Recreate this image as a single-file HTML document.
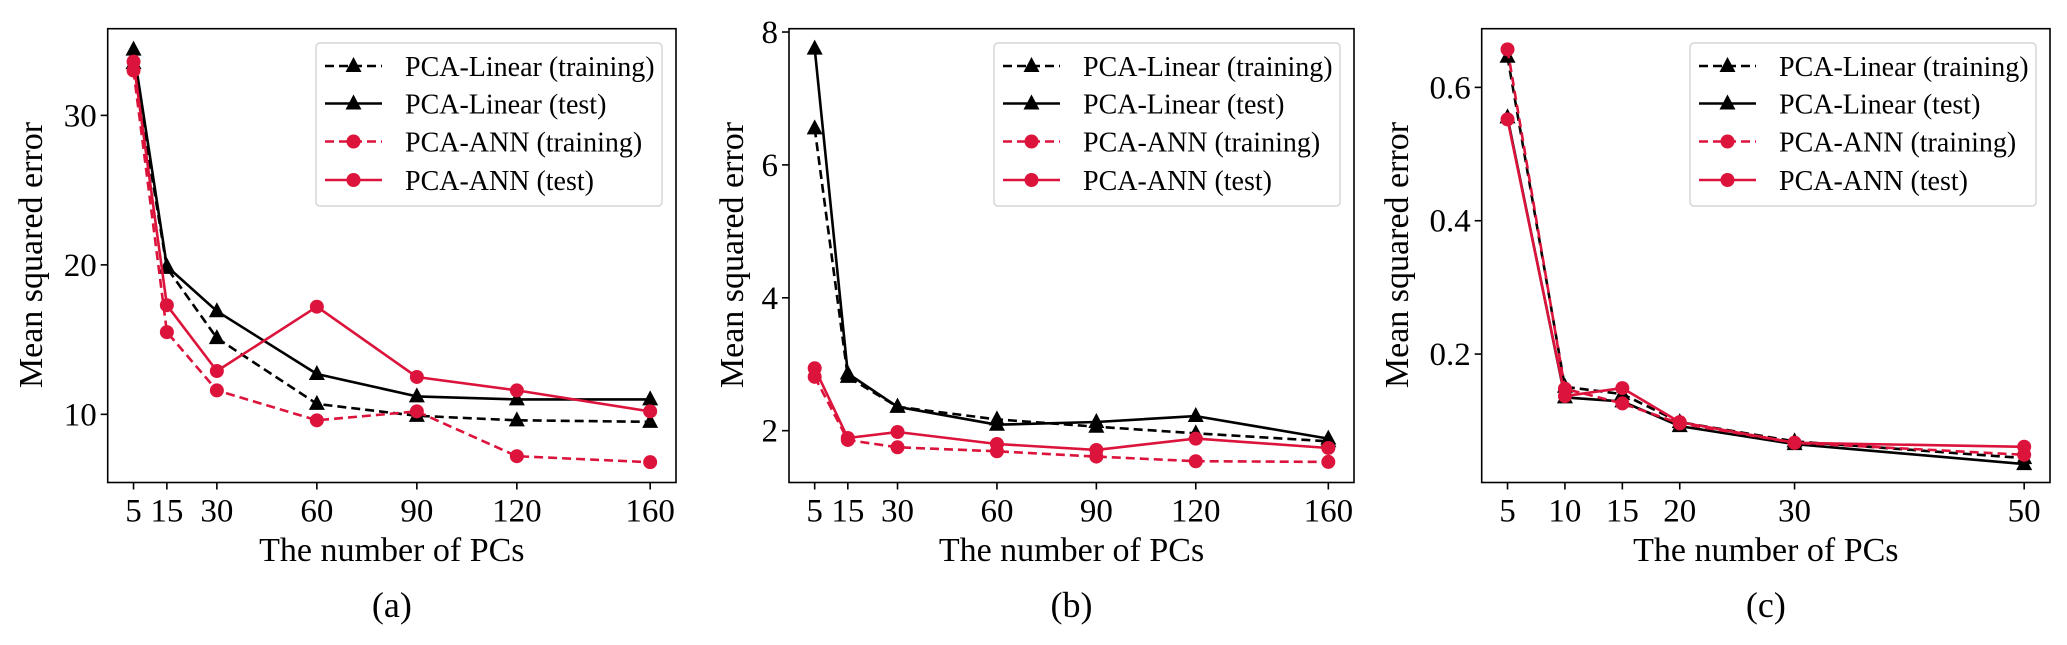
<!DOCTYPE html>
<html><head><meta charset="utf-8"><style>
html,body{margin:0;padding:0;background:#fff;}
svg{display:block;font-family:"Liberation Serif",serif;}
</style></head><body>
<svg id="fig" width="2067" height="645" viewBox="0 0 2067 645" xmlns="http://www.w3.org/2000/svg"></svg>
<script>
// Panel (a)
const xA = [5, 15, 30, 60, 90, 120, 160];
const linTrainA = [33.5, 19.8, 15.1, 10.7, 9.9, 9.6, 9.5];
const linTestA  = [34.4, 19.9, 16.9, 12.7, 11.2, 11.0, 11.0];
const annTrainA = [33.0, 15.5, 11.6, 9.6, 10.2, 7.2, 6.8];
const annTestA  = [33.6, 17.3, 12.9, 17.2, 12.5, 11.6, 10.2];
const yTicksA = [10, 20, 30];
// Panel (b)
const xB = [5, 15, 30, 60, 90, 120, 160];
const linTrainB = [6.55, 2.81, 2.36, 2.17, 2.06, 1.96, 1.84];
const linTestB  = [7.75, 2.86, 2.36, 2.09, 2.13, 2.22, 1.88];
const annTrainB = [2.81, 1.86, 1.75, 1.69, 1.61, 1.54, 1.53];
const annTestB  = [2.94, 1.89, 1.98, 1.80, 1.71, 1.88, 1.74];
const yTicksB = [2, 4, 6, 8];
// Panel (c)
const xC = [5, 10, 15, 20, 30, 50];
const linTrainC = [0.646, 0.151, 0.140, 0.098, 0.069, 0.044];
const linTestC  = [0.555, 0.135, 0.129, 0.092, 0.065, 0.035];
const annTrainC = [0.657, 0.148, 0.126, 0.096, 0.067, 0.049];
const annTestC  = [0.552, 0.137, 0.149, 0.098, 0.067, 0.061];
const yTicksC = [0.2, 0.4, 0.6];
const legendLabels = ["PCA-Linear (training)", "PCA-Linear (test)", "PCA-ANN (training)", "PCA-ANN (test)"];
const panelLetters = ["(a)", "(b)", "(c)"];

const NS = "http://www.w3.org/2000/svg";
const svg = document.getElementById("fig");
const RED = "#dc143c";
function mk(tag, attrs, parent) {
  const e = document.createElementNS(NS, tag);
  for (const k in attrs) e.setAttribute(k, attrs[k]);
  (parent || svg).appendChild(e);
  return e;
}
function marker(g, kind, cx, cy, color) {
  if (kind === "tri") {
    return mk("polygon", {points: `${cx},${cy-9} ${cx-8},${cy+6} ${cx+8},${cy+6}`, fill: color}, g);
  }
  return mk("circle", {cx: cx, cy: cy, r: 7, fill: color}, g);
}

const panels = [
  {id:"a", x:xA, series:[linTrainA, linTestA, annTrainA, annTestA], yt:yTicksA, fmt:v=>String(v), L:107.7, R:676, ymin:5.44, ymax:35.8, ylabX:31},
  {id:"b", x:xB, series:[linTrainB, linTestB, annTrainB, annTestB], yt:yTicksB, fmt:v=>String(v), L:789, R:1354, ymin:1.22, ymax:8.05, ylabX:732},
  {id:"c", x:xC, series:[linTrainC, linTestC, annTrainC, annTestC], yt:yTicksC, fmt:v=>v.toFixed(1), L:1481.7, R:2050, ymin:0.0074, ymax:0.688, ylabX:1397}
];
const TOP = 28.7, BOT = 482.5;
const styles = [
  {color:"#000", dash:"9,5", m:"tri"},
  {color:"#000", dash:"", m:"tri"},
  {color:RED, dash:"9,5", m:"circ"},
  {color:RED, dash:"", m:"circ"}
];
const drawOrder = [0, 1, 2, 3];

panels.forEach((p, pi) => {
  const g = mk("g", {});
  
  
  const xmin = Math.min(...p.x), xmaxv = Math.max(...p.x), span = xmaxv - xmin;
  const x0 = xmin - 0.05 * span, x1 = xmaxv + 0.05 * span;
  const sx = v => p.L + (v - x0) / (x1 - x0) * (p.R - p.L);
  const sy = v => BOT - (v - p.ymin) / (p.ymax - p.ymin) * (BOT - TOP);

  drawOrder.forEach(si => {
    const st = styles[si];
    const vals = p.series[si];
    const sg = mk("g", {}, g);
    
    
    const pts = vals.map((v, i) => sx(p.x[i]).toFixed(1) + "," + sy(v).toFixed(1)).join(" ");
    mk("polyline", {points: pts, fill: "none", stroke: st.color, "stroke-width": 2.6, "stroke-dasharray": st.dash, "stroke-linejoin": "round"}, sg);
    vals.forEach((v, i) => {
      const m = marker(sg, st.m, sx(p.x[i]), sy(v), st.color);
      
      
    });
  });

  const fr = mk("rect", {x: p.L, y: TOP, width: p.R - p.L, height: BOT - TOP, fill: "none", stroke: "#000", "stroke-width": 1.6}, g);
  
  

  p.x.forEach(v => {
    mk("line", {x1: sx(v), x2: sx(v), y1: BOT, y2: BOT + 7, stroke: "#000", "stroke-width": 1.6}, g);
    const t = mk("text", {x: sx(v), y: BOT + 39, "text-anchor": "middle", "font-size": 33, fill: "#000"}, g);
    t.textContent = v;
    
    
  });
  p.yt.forEach(v => {
    mk("line", {x1: p.L - 7, x2: p.L, y1: sy(v), y2: sy(v), stroke: "#000", "stroke-width": 1.6}, g);
    const t = mk("text", {x: p.L - 11, y: sy(v) + 11, "text-anchor": "end", "font-size": 33, fill: "#000"}, g);
    t.textContent = p.fmt(v);
    
    
  });

  const xl = mk("text", {x: (p.L + p.R) / 2, y: 561, "text-anchor": "middle", "font-size": 34, fill: "#000"}, g);
  xl.textContent = "The number of PCs";
  
  
  const cy = 255;
  const yl = mk("text", {x: p.ylabX, y: cy, "text-anchor": "middle", "font-size": 34, fill: "#000", transform: `rotate(-90 ${p.ylabX} ${cy})`, dy: 11}, g);
  yl.textContent = "Mean squared error";
  
  
  const pl = mk("text", {x: (p.L + p.R) / 2, y: 617, "text-anchor": "middle", "font-size": 36, fill: "#000"}, g);
  pl.textContent = panelLetters[pi];
  
  

  const lg = mk("g", {}, g);
  
  
  const lx = p.R - 360;
  mk("rect", {x: lx, y: 43, width: 346, height: 163, rx: 4, fill: "#fff", "fill-opacity": 0.85, stroke: "#d6d6d6", "stroke-width": 1.5}, lg);
  const rows = [66, 103.5, 141.5, 180];
  legendLabels.forEach((lab, i) => {
    const st = styles[i];
    const eg = mk("g", {}, lg);
    
    
    mk("line", {x1: lx + 9, x2: lx + 66, y1: rows[i], y2: rows[i], stroke: st.color, "stroke-width": 2.6, "stroke-dasharray": st.dash}, eg);
    marker(eg, st.m, lx + 37.5, rows[i], st.color);
    const t = mk("text", {x: lx + 89, y: rows[i] + 10, "font-size": 28, fill: "#000"}, eg);
    t.textContent = lab;
  });
});
</script>
</body></html>
